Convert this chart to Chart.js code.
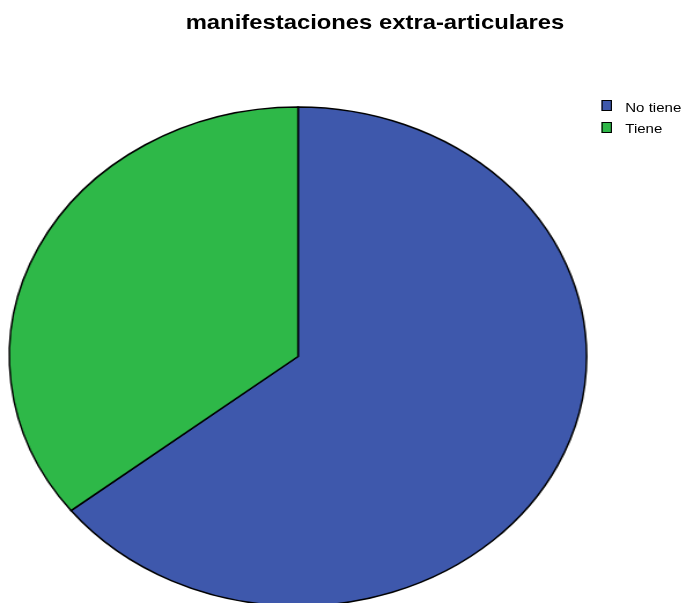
<!DOCTYPE html>
<html>
<head>
<meta charset="utf-8">
<title>manifestaciones extra-articulares</title>
<script src="https://cdn.jsdelivr.net/npm/chart.js@4/dist/chart.umd.min.js"></script>
<style>
  html, body { margin: 0; padding: 0; background: #fff; }
  body { width: 686px; height: 603px; overflow: hidden; }
  /* the whole figure is laid out at 593px wide and stretched to 686px */
  #stage {
    position: relative;
    width: 593px;
    height: 603px;
    transform: scaleX(1.1568);
    transform-origin: 0 0;
    font-family: "Liberation Sans", Arial, sans-serif;
    color: #000;
  }
  #pie { position: absolute; left: 0; top: 0; width: 593px; height: 603px; }
  #title {
    position: absolute;
    left: 0;
    top: 11.9px;
    width: 648.4px;
    text-align: center;
    font-size: 20.6px;
    font-weight: bold;
    line-height: 1;
    white-space: nowrap;
  }
  .legend-row {
    position: absolute;
    left: 519.5px;
    height: 13px;
    font-size: 13px;
    line-height: 1;
    white-space: nowrap;
  }
  .legend-box {
    position: absolute;
    left: 0;
    top: 0;
    width: 7.5px;
    height: 9px;
    border: 1px solid #000;
  }
  .legend-text { position: absolute; left: 21px; top: 0.5px; }
</style>
</head>
<body>
<div id="stage">
  <canvas id="pie" width="593" height="603"></canvas>
  <div id="title"></div>
  <div id="legend"></div>
</div>
<script>
const chartTitle = 'manifestaciones extra-articulares';
const categories = ['No tiene', 'Tiene'];
const counts = [38, 21];
const sliceColors = ['#3E58AC', '#2EB848'];

document.getElementById('title').textContent = chartTitle;

// legend rows, one per category
const legendDiv = document.getElementById('legend');
categories.forEach(function (name, i) {
    const row = document.createElement('div');
    row.className = 'legend-row';
    row.style.top = (100.3 + i * 21.4) + 'px';
    const box = document.createElement('span');
    box.className = 'legend-box';
    box.style.background = sliceColors[i];
    const label = document.createElement('span');
    label.className = 'legend-text';
    label.textContent = name;
    row.appendChild(box);
    row.appendChild(label);
    legendDiv.appendChild(row);
});

const ctx = document.getElementById('pie').getContext('2d');
new Chart(ctx, {
    type: 'pie',
    data: {
        labels: categories,
        datasets: [{
            data: counts,
            backgroundColor: sliceColors,
            borderColor: '#000',
            borderWidth: 1.5,
            borderJoinStyle: 'miter'
        }]
    },
    options: {
        responsive: false,
        animation: false,
        // pie centred in the chart area, a bit larger so its bottom runs off the page
        radius: 249.5,
        layout: { padding: { left: 8.6, right: 86.4, top: 110, bottom: 0 } },
        plugins: {
            legend: { display: false },
            title: { display: false },
            tooltip: { enabled: false }
        }
    }
});
</script>
</body>
</html>
